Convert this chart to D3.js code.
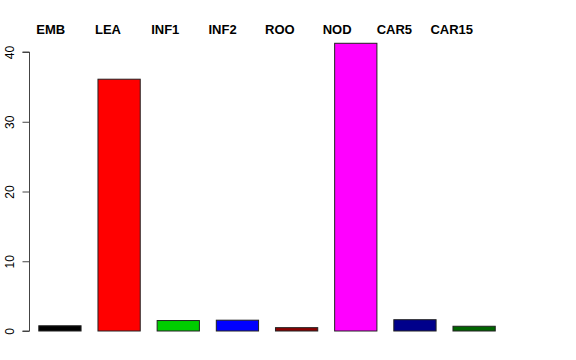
<!DOCTYPE html>
<html>
<head>
<meta charset="utf-8">
<script src="https://cdn.jsdelivr.net/npm/d3@7"></script>
<style>
  body { margin: 0; background: #fff; }
  svg { display: block; font-family: "Liberation Sans", Arial, sans-serif; }
</style>
</head>
<body>
<div id="chart"></div>
<script>
const categories = ['EMB', 'LEA', 'INF1', 'INF2', 'ROO', 'NOD', 'CAR5', 'CAR15'];
const values = [0.75, 36.1, 1.5, 1.55, 0.48, 41.25, 1.62, 0.68];
const barColors = ['#000000', '#ff0000', '#00cd00', '#0000ff', '#8b0000', '#ff00ff', '#00008b', '#006400'];
const yTicks = [0, 10, 20, 30, 40];

const width = 576, height = 360;

const svg = d3.select('#chart')
  .append('svg')
  .attr('width', width)
  .attr('height', height);

const x = d3.scaleBand()
  .domain(categories)
  .range([29.85, 503.2])
  .paddingInner(0.4 / 1.4)
  .paddingOuter(0.2 / 1.4);

// labels sit on their own evenly spaced positions along the top
const xLab = d3.scalePoint()
  .domain(categories)
  .range([50.7, 451.7]);

const y = d3.scaleLinear()
  .domain([0, 40])
  .range([331, 52]);

// Y axis
const yAxis = svg.append('g')
  .attr('transform', 'translate(29.5,0)')
  .call(d3.axisLeft(y).tickValues(yTicks).tickSize(7).tickPadding(9).tickFormat(d3.format('d')));

yAxis.select('.domain').attr('stroke', '#444').attr('d', `M-7,${y(0)}H0V${y(40)}H-7`);
yAxis.selectAll('.tick line').attr('stroke', '#444');
yAxis.selectAll('.tick text')
  .attr('transform', 'rotate(-90)')
  .attr('x', 0)
  .attr('y', -16)
  .attr('dy', null)
  .attr('text-anchor', 'middle')
  .style('font-size', '12px')
  .style('fill', '#000')
  .style('font-family', '"Liberation Sans", Arial, sans-serif');

// Bars
svg.selectAll('.bar')
  .data(categories)
  .enter()
  .append('rect')
  .attr('class', 'bar')
  .attr('x', d => x(d) + 0.5)
  .attr('y', (d, i) => y(values[i]))
  .attr('width', x.bandwidth())
  .attr('height', (d, i) => y(0) - y(values[i]))
  .attr('fill', (d, i) => barColors[i])
  .attr('stroke', '#222')
  .attr('stroke-width', 1);

// Category labels
svg.selectAll('.lab')
  .data(categories)
  .enter()
  .append('text')
  .attr('class', 'lab')
  .attr('x', d => xLab(d))
  .attr('y', 34)
  .attr('text-anchor', 'middle')
  .style('font-size', '13px')
  .style('font-weight', 'bold')
  .text(d => d);
</script>
</body>
</html>
